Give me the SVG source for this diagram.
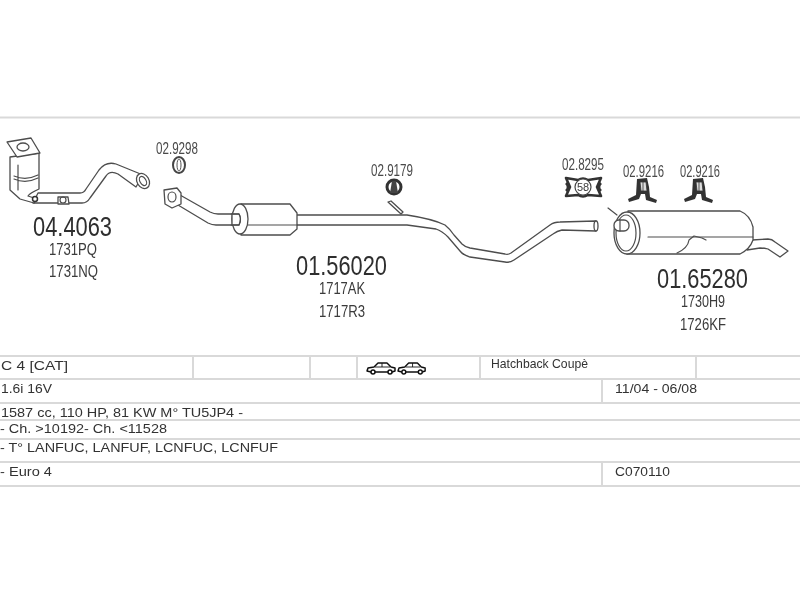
<svg xmlns="http://www.w3.org/2000/svg" width="800" height="600" viewBox="0 0 800 600">
<style>
text{font-family:"Liberation Sans",Arial,sans-serif;fill:#3a3a3a}
.big{font-size:27px;fill:#2e2e2e}
.mid{font-size:16px}
.ref{font-size:17px;fill:#4a4a4a}
.row{font-size:13px;fill:#333}
.rule{stroke:#d9d9d9;stroke-width:2;fill:none}
.p{fill:none;stroke:#4d4d4d;stroke-width:1.2;stroke-linejoin:round;stroke-linecap:round}
.f{fill:#fff;stroke:#4d4d4d;stroke-width:1.3;stroke-linejoin:round}
</style>
<defs>
<filter id="soft" x="-2%" y="-2%" width="104%" height="104%"><feGaussianBlur stdDeviation="0.35"/></filter>
<g id="car">
<path d="M0 9 L1 6 L7 5 L11 1 L20 1 L24 5 L28 6 L28 9 L25 10 L4 10 Z" fill="#fff" stroke="#111" stroke-width="1.500" stroke-linejoin="round"/>
<path d="M8 5 H23 M15 1 V5" stroke="#111" stroke-width="0.9" fill="none"/>
<circle cx="6" cy="10" r="2" fill="#fff" stroke="#111" stroke-width="1.500"/>
<circle cx="23" cy="10" r="2" fill="#fff" stroke="#111" stroke-width="1.500"/>
</g>
<g id="hanger">
<path d="M-6 -12 L4 -13 L6 -4 L7 6 L14 9 L13 12 L3 9 L2 3 L-2 3 L-4 8 L-14 11 L-15 8 L-7 4 Z" fill="#333"/>
<path d="M-3 -9 L3 -9 L4 0 L-2 0 Z M0 -9 V0" fill="#ddd" stroke="#333" stroke-width="0.8"/>
</g>
</defs>
<rect width="800" height="600" fill="#fff"/>
<g filter="url(#soft)">
<g id="table">
<path class="rule" d="M0 117.500H800 M0 356H800 M0 379H800 M0 403H800 M0 420H800 M0 439H800 M0 462H800 M0 486H800"/>
<path class="rule" d="M193 356V379 M310 356V379 M357 356V379 M480 356V379 M696 356V379 M602 379V403 M602 462V486"/>
<text class="row" x="1" y="370" textLength="67" lengthAdjust="spacingAndGlyphs">C 4  [CAT]</text>
<use href="#car" x="367" y="362"/>
<use href="#car" transform="translate(398 362) scale(0.97 1)"/>
<text class="row" x="491" y="368" textLength="97" lengthAdjust="spacingAndGlyphs">Hatchback Coupè</text>
<text class="row" x="1" y="393" textLength="51" lengthAdjust="spacingAndGlyphs">1.6i  16V</text>
<text class="row" x="615" y="393" textLength="82" lengthAdjust="spacingAndGlyphs">11/04 - 06/08</text>
<text class="row" x="1" y="417" textLength="242" lengthAdjust="spacingAndGlyphs">1587 cc, 110 HP, 81 KW  M° TU5JP4 -</text>
<text class="row" x="0" y="433" textLength="167" lengthAdjust="spacingAndGlyphs">- Ch. &gt;10192- Ch. &lt;11528</text>
<text class="row" x="0" y="452" textLength="278" lengthAdjust="spacingAndGlyphs">- T° LANFUC, LANFUF, LCNFUC, LCNFUF</text>
<text class="row" x="0" y="476" textLength="52" lengthAdjust="spacingAndGlyphs">- Euro 4</text>
<text class="row" x="615" y="476" textLength="55" lengthAdjust="spacingAndGlyphs">C070110</text>
</g>
<g id="connectors"></g>
<g id="part-044063">
<path class="f" d="M38 193 L80 193 Q84 193 86 189 L99 170 Q106 161 116 164 L143 175 L136 187 L118 174 Q110 170 106 176 L90 198 Q87 203 82 203 L33 203 Z"/>
<path class="f" d="M10 157 L39 153 L39 189 Q30 193 28 196 L37 199 L34 203 L20 199 L10 190 Z"/>
<path class="p" d="M18 165 V190 M14 176 Q26 181 38 175 M14 179 Q26 184 38 178"/>
<path class="f" d="M7 142 L31 138 L40 153 L17 157 Z"/>
<ellipse class="f" cx="23" cy="147" rx="6" ry="4"/>
<ellipse class="f" cx="143" cy="181" rx="6" ry="8" transform="rotate(-30 143 181)"/>
<ellipse class="p" cx="143" cy="181" rx="3" ry="5" transform="rotate(-30 143 181)"/>
<circle cx="35" cy="199" r="2.500" fill="#fff" stroke="#333" stroke-width="1.500"/>
<path class="f" d="M58 197 H68 L69 204 H58 Z"/>
<circle class="p" cx="63" cy="200" r="3"/>
<text class="big" x="33" y="236" textLength="79" lengthAdjust="spacingAndGlyphs">04.4063</text>
<text class="mid" x="49" y="255" textLength="48" lengthAdjust="spacingAndGlyphs">1731PQ</text>
<text class="mid" x="49" y="277" textLength="49" lengthAdjust="spacingAndGlyphs">1731NQ</text>
</g>
<g id="part-029298">
<text class="ref" x="156" y="154" textLength="42" lengthAdjust="spacingAndGlyphs">02.9298</text>
<ellipse cx="179" cy="165" rx="6" ry="8" fill="#fff" stroke="#444" stroke-width="2"/>
<ellipse cx="179" cy="165" rx="2" ry="6" fill="#fff" stroke="#555"/>
</g>
<g id="part-0156020">
<path class="f" d="M180 195 L210 212 Q214 214 218 214 L235 214 V225 L216 225 Q212 225 208 223 L178 205 Z"/>
<path class="f" d="M295 215 L407 215 Q433 219 445 225 Q450 229 454 235 L462 244 Q465 247 470 248 L505 254 Q508 255 511 253 L550 225 Q554 222 560 222 L596 221 V231 L562 230 Q557 231 553 234 L514 260 Q510 263 505 262 L470 257 Q463 255 460 251 L448 237 Q442 231 436 229 L407 225 L295 225 Z"/>
<path class="f" d="M164 190 L177 188 L181 193 L181 204 L172 208 L165 204 Z" stroke-width="1.800"/>
<ellipse class="p" cx="172" cy="197" rx="4" ry="5"/>
<path class="f" d="M241 204 H290 L297 213 V229 L290 235 H241 Z"/>
<path class="p" d="M248 225 H297"/>
<ellipse class="f" cx="240" cy="219" rx="8" ry="15" stroke-width="2"/>
<path class="f" d="M232 214 H239 Q242 219 239 225 H232 Z" stroke="none"/>
<path class="p" d="M231 214 H239 Q242 219 239 225 H231"/>
<ellipse class="f" cx="596" cy="226" rx="2" ry="5"/>
<path class="f" d="M388 202 L391 201 L403 212 L401 214 Z"/>
<text class="big" x="296" y="275" textLength="91" lengthAdjust="spacingAndGlyphs">01.56020</text>
<text class="mid" x="319" y="294" textLength="46" lengthAdjust="spacingAndGlyphs">1717AK</text>
<text class="mid" x="319" y="317" textLength="46" lengthAdjust="spacingAndGlyphs">1717R3</text>
</g>
<g id="part-029179">
<text class="ref" x="371" y="176" textLength="42" lengthAdjust="spacingAndGlyphs">02.9179</text>
<circle cx="394" cy="187" r="7" fill="#fff" stroke="#333" stroke-width="3"/>
<path d="M392 181 H396 L398 193 H390 Z" fill="#444"/>
</g>
<g id="part-028295">
<text class="ref" x="562" y="170" textLength="42" lengthAdjust="spacingAndGlyphs">02.8295</text>
<path d="M566 178 L578 180 Q583 177 588 180 L601 178 L597 187 L601 196 L588 195 Q583 198 578 195 L566 196 L570 187 Z" fill="#fff" stroke="#333" stroke-width="2.600" stroke-linejoin="round"/>
<path d="M566 183 Q570 187 566 191 M601 183 Q597 187 601 191" fill="none" stroke="#333" stroke-width="2.500"/>
<circle cx="583" cy="187" r="8" fill="#fff" stroke="#444" stroke-width="1.200"/>
<text x="583" y="191" text-anchor="middle" style="font-size:11px">58</text>
</g>
<g id="part-029216-a">
<text class="ref" x="623" y="177" textLength="41" lengthAdjust="spacingAndGlyphs">02.9216</text>
<use href="#hanger" x="643" y="191"/>
</g>
<g id="part-029216-b">
<text class="ref" x="680" y="177" textLength="40" lengthAdjust="spacingAndGlyphs">02.9216</text>
<use href="#hanger" x="699" y="191"/>
</g>
<g id="part-0165280">
<path class="f" d="M752 240 L768 239 Q772 239 775 242 L788 251 L780 257 L768 249 Q765 248 760 248 L747 250 Z"/>
<path class="f" d="M628 211 H740 Q750 215 753 227 V240 Q750 249 740 254 H627 Z"/>
<path class="p" d="M648 237 H753"/>
<path class="p" d="M677 253 Q688 248 689 240 L694 236 L702 238 L706 240" stroke-width="1.500"/>
<ellipse class="f" cx="627" cy="233" rx="13" ry="21" stroke-width="1.800"/>
<ellipse class="p" cx="626" cy="233" rx="10" ry="18"/>
<rect class="f" x="614" y="220" width="15" height="11" rx="5" stroke-width="1.800"/>
<path class="p" d="M620 220 V231"/>
<path class="p" d="M608 208 L617 215" stroke-width="2"/>
<text class="big" x="657" y="288" textLength="91" lengthAdjust="spacingAndGlyphs">01.65280</text>
<text class="mid" x="681" y="307" textLength="44" lengthAdjust="spacingAndGlyphs">1730H9</text>
<text class="mid" x="680" y="330" textLength="46" lengthAdjust="spacingAndGlyphs">1726KF</text>
</g>
</g>
</svg>
